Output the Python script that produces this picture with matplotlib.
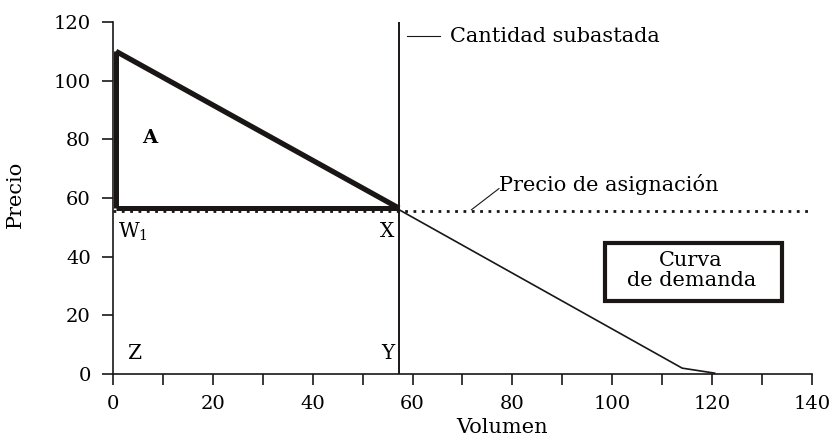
import matplotlib.pyplot as plt
from matplotlib.patches import Rectangle
from matplotlib.ticker import MultipleLocator

# demand curve (volumen, precio)
demand_x = [0.6, 57.3, 114.0, 120.5]
demand_y = [110.0, 56.0, 2.0, 0.3]

# auction quantity and allocation price
auction_qty = 57.3
alloc_price = 55.5
surplus_base = 56.5

x_ticks = [0, 20, 40, 60, 80, 100, 120, 140]
y_ticks = [0, 20, 40, 60, 80, 100, 120]

INK = '#1a1616'
plt.rcParams['font.family'] = ['DejaVu Serif']

fig = plt.figure(figsize=(8.34, 4.38), dpi=100)
ax = fig.add_axes([0.1355, 0.1461, 0.8381, 0.8037])

# thin demand curve to the right of the auction quantity
ax.plot(demand_x[1:], demand_y[1:], color=INK, lw=1.2, zorder=3)

# thick triangle A
ax.plot([demand_x[0], demand_x[1]], [demand_y[0], surplus_base], color=INK, lw=3.8,
        solid_capstyle='butt', zorder=4)
ax.plot([demand_x[0], demand_x[1]], [surplus_base, surplus_base], color=INK, lw=3.6,
        solid_capstyle='butt', zorder=4)
ax.plot([demand_x[0], demand_x[0]], [surplus_base, demand_y[0]], color=INK, lw=3.6,
        solid_capstyle='butt', zorder=4)

# allocation price (dotted) and auction quantity (vertical)
ax.plot([0, 140], [alloc_price, alloc_price], color=INK, lw=2.0, ls=(0, (1, 2)), zorder=2)
ax.plot([auction_qty, auction_qty], [0, 120], color=INK, lw=1.4, zorder=3)

# annotations
ax.plot([58.9, 65.5], [115.2, 115.2], color=INK, lw=0.8)
ax.text(67.4, 115.2, 'Cantidad subastada', fontsize=15, va='center', ha='left')
ax.plot([71.8, 77.3], [56.0, 63.2], color=INK, lw=0.8)
ax.text(77.3, 64.5, 'Precio de asignación', fontsize=15, va='center', ha='left')

ax.text(7.4, 80.5, 'A', fontsize=14, fontweight='bold', va='center', ha='center')
ax.text(1.0, 48.5, r'W$_{\mathregular{1}}$', fontsize=14.5, va='center', ha='left')
ax.text(56.3, 48.5, 'X', fontsize=14.5, va='center', ha='right')
ax.text(2.8, 7.0, 'Z', fontsize=14.5, va='center', ha='left')
ax.text(56.3, 7.0, 'Y', fontsize=14.5, va='center', ha='right')

# "Curva de demanda" box
ax.add_patch(Rectangle((98.6, 24.9), 35.3, 19.8, fc='white', ec=INK, lw=3.0, zorder=5))
ax.text(115.8, 35.3, 'Curva\nde demanda', fontsize=15, va='center', ha='center',
        linespacing=1.05, zorder=6)

ax.set_xlim(0, 140)
ax.set_ylim(0, 120)
ax.set_xticks(x_ticks)
ax.set_yticks(y_ticks)
ax.xaxis.set_minor_locator(MultipleLocator(10))
ax.tick_params(axis='both', which='major', direction='out', length=8, width=1.2,
               labelsize=14, color=INK)
ax.tick_params(axis='x', which='minor', direction='out', length=8, width=1.2, color=INK)
ax.tick_params(axis='x', which='major', pad=7)
ax.tick_params(axis='y', which='major', pad=8)
for side in ['top', 'right']:
    ax.spines[side].set_visible(False)
for side in ['left', 'bottom']:
    ax.spines[side].set_linewidth(1.2)
    ax.spines[side].set_color(INK)

ax.set_xlabel('Volumen', fontsize=15)
ax.set_ylabel('Precio', fontsize=15)
ax.xaxis.set_label_coords(78.0 / 140, -0.125)
ax.yaxis.set_label_coords(-0.126, 0.509)

fig.savefig('out.png', dpi=100)
